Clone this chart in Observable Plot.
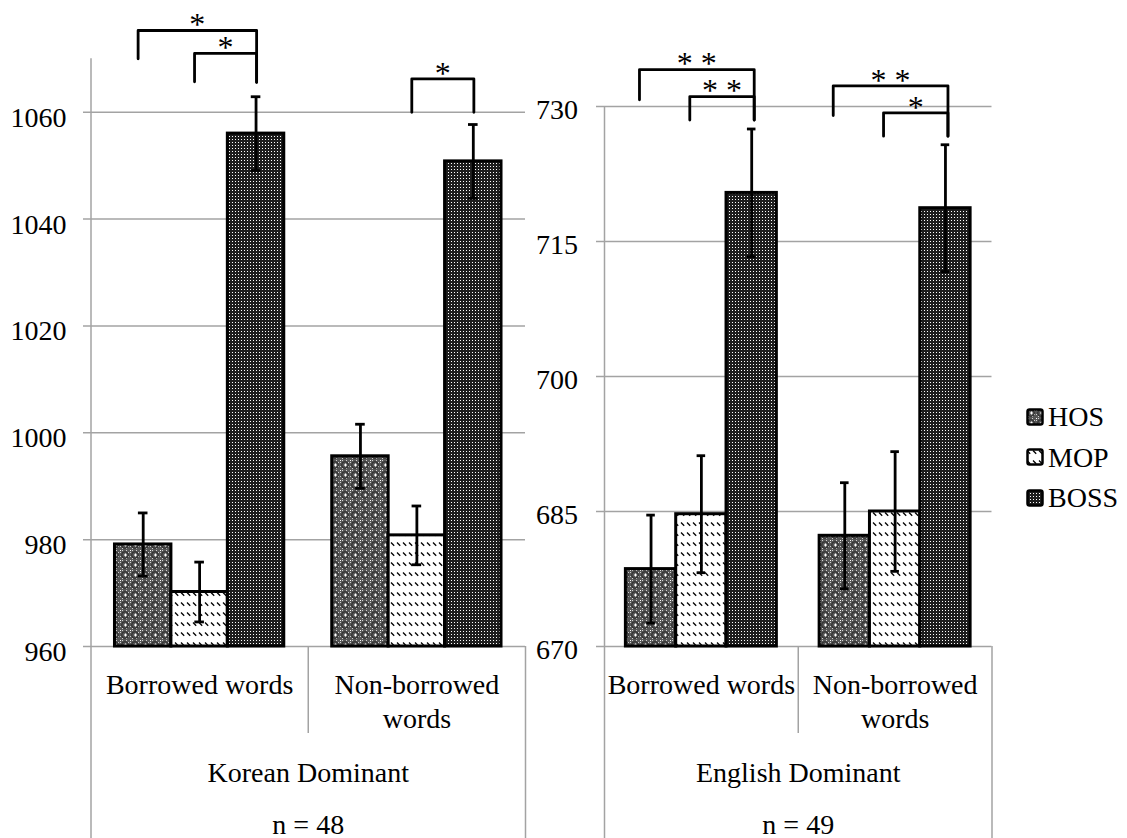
<!DOCTYPE html>
<html>
<head>
<meta charset="utf-8">
<script src="https://cdn.jsdelivr.net/npm/d3@7"></script>
<script src="https://cdn.jsdelivr.net/npm/@observablehq/plot@0.6"></script>
<style>
  html, body { margin: 0; padding: 0; background: #fff; }
  #wrap { position: relative; width: 1127px; height: 838px; overflow: hidden; font-family: "Liberation Serif", "Times New Roman", Times, "DejaVu Serif", serif; }
  .panel { position: absolute; top: 0; }
  #legend { position: absolute; left: 1026px; top: 397px; }
  .li { display: flex; align-items: center; height: 40.5px; font-size: 28px; line-height: 1; color: #000; }
  .li svg { margin-right: 3px; }
</style>
</head>
<body>
<svg width="0" height="0" style="position:absolute;left:0;top:0">
  <defs>
    <pattern id="p-hos" patternUnits="userSpaceOnUse" width="10" height="10">
      <rect width="10" height="10" fill="#565656"/>
      <path d="M2 0h1v1h-1zM6 0h1v1h-1zM0 2h1v1h-1zM8 2h1v1h-1zM0 6h1v1h-1zM8 6h1v1h-1zM2 8h1v1h-1zM6 8h1v1h-1z" fill="#cfcfcf"/>
      <circle cx="5" cy="5" r="3.3" fill="none" stroke="#262626" stroke-width="0.9"/>
      <path d="M4 5h3M5.5 3.5v3" stroke="#ffffff" stroke-width="1"/>
      <path d="M0 0h1v1h-1z" fill="#ffffff"/>
    </pattern>
    <pattern id="p-mop" patternUnits="userSpaceOnUse" width="6" height="10">
      <rect width="6" height="10" fill="#ffffff"/>
      <path d="M1 2.5L4.2 5.7" stroke="#000" stroke-width="1.3"/>
    </pattern>
    <pattern id="p-boss" patternUnits="userSpaceOnUse" width="3" height="3">
      <rect width="3" height="3" fill="#1e1e1e"/>
      <rect x="1" y="1" width="1" height="1" fill="#ffffff"/>
    </pattern>
  </defs>
</svg>
<div id="wrap">
  <div id="left" class="panel" style="left:0px"></div>
  <div id="right" class="panel" style="left:530px"></div>
  <div id="legend"></div>
</div>
<script>
// ---------- data ----------
const conditions = ["HOS", "MOP", "BOSS"];
const wordTypes = ["Borrowed words", "Non-borrowed words"];
const dominanceGroups = ["Korean Dominant", "English Dominant"];
const sampleSizes = [48, 49];

// Korean Dominant (means and error bars: HOS, MOP, BOSS)
const koreanBorrowed = [979.1, 970.2, 1056.0];
const koreanBorrowedErr = [5.9, 5.6, 6.9];
const koreanNonBorrowed = [995.6, 980.8, 1050.8];
const koreanNonBorrowedErr = [6.0, 5.5, 6.9];
const koreanTicks = [960, 980, 1000, 1020, 1040, 1060];
const koreanDomain = [960, 1070];

// English Dominant
const englishBorrowed = [678.6, 684.7, 720.4];
const englishBorrowedErr = [6.0, 6.5, 7.1];
const englishNonBorrowed = [682.3, 685.0, 718.7];
const englishNonBorrowedErr = [5.9, 6.65, 7.05];
const englishTicks = [670, 685, 700, 715, 730];
const englishDomain = [670, 730];

// significance brackets (word type index, compared conditions, label, levels in data units)
const koreanBrackets = [
  {wt: 0, from: "HOS", to: "BOSS", label: "*", top: 1075.3, leftEnd: 1070.0, rightEnd: 1065.6},
  {wt: 0, from: "MOP", to: "BOSS", label: "*", top: 1071.0, leftEnd: 1065.7, rightEnd: 1065.6},
  {wt: 1, from: "MOP", to: "BOSS", label: "*", top: 1066.25, leftEnd: 1060.0, rightEnd: 1060.0}
];
const englishBrackets = [
  {wt: 0, from: "HOS", to: "BOSS", label: "**", top: 734.1, leftEnd: 730.75, rightEnd: 728.5},
  {wt: 0, from: "MOP", to: "BOSS", label: "**", top: 731.1, leftEnd: 728.5, rightEnd: 728.5},
  {wt: 1, from: "HOS", to: "BOSS", label: "**", top: 732.3, leftEnd: 729.0, rightEnd: 726.7},
  {wt: 1, from: "MOP", to: "BOSS", label: "*", top: 729.3, leftEnd: 726.7, rightEnd: 726.7}
];

// ---------- layout / style ----------
const patternUrls = ["url(#p-hos)", "url(#p-mop)", "url(#p-boss)"];
const FONT = "'Liberation Serif', 'Times New Roman', Times, 'DejaVu Serif', serif";
const FS = 28;
const GRID = "#a3a3a3";
const GW = 3.85;          // width of one word-type group, in bar widths
const PAD = (GW - conditions.length) / 2;

function barCenter(wt, cond) {
  return wt * GW + PAD + conditions.indexOf(cond) + 0.5;
}

function makePanel(cfg) {
  const rows = [];
  wordTypes.forEach((w, g) => {
    conditions.forEach((c, j) => {
      const x1 = g * GW + PAD + j;
      rows.push({wordType: w, cond: c, mean: cfg.means[g][j], err: cfg.errs[g][j], x1, x2: x1 + 1, xc: x1 + 0.5});
    });
  });
  const base = cfg.domain[0];
  const pts = [];
  const labels = [];
  cfg.brackets.forEach((b, k) => {
    const xl = barCenter(b.wt, b.from) + cfg.legShift;
    const xr = barCenter(b.wt, b.to) + cfg.rightShift;
    pts.push({k, x: xl, y: b.leftEnd}, {k, x: xl, y: b.top}, {k, x: xr, y: b.top}, {k, x: xr, y: b.rightEnd});
    labels.push({x: (xl + xr) / 2, y: b.top, label: b.label.split("").join(" ")});
  });
  const plot = Plot.plot({
    width: cfg.width,
    height: 838,
    marginLeft: cfg.marginLeft,
    marginRight: cfg.marginRight,
    marginTop: cfg.marginTop,
    marginBottom: cfg.marginBottom,
    x: {domain: [0, 2 * GW], axis: null},
    y: {domain: cfg.domain, axis: null},
    color: {domain: conditions, range: patternUrls},
    style: {background: "transparent", fontFamily: FONT, color: "black", overflow: "visible"},
    marks: [
      Plot.ruleY(cfg.ticks, {y: d => d, stroke: GRID, strokeWidth: 1.5, insetLeft: -cfg.tickLen}),
      Plot.ruleX([0], {x: d => d, stroke: GRID, strokeWidth: 1.5, insetBottom: -cfg.marginBottom}),
      Plot.ruleX([2 * GW], {x: d => d, y1: () => base, y2: () => base, stroke: GRID, strokeWidth: 1.5, insetBottom: -cfg.marginBottom}),
      Plot.ruleX([GW], {x: d => d, y1: () => base, y2: () => base, stroke: GRID, strokeWidth: 1.5, insetBottom: -87}),
      Plot.rect(rows, {x1: "x1", x2: "x2", y1: () => base, y2: "mean", fill: "cond", stroke: "black", strokeWidth: 3}),
      Plot.ruleX(rows, {x: "xc", y1: d => d.mean - d.err, y2: d => d.mean + d.err, stroke: "black", strokeWidth: 2.8}),
      Plot.ruleY(rows, {y: d => d.mean + d.err, x1: d => d.xc - 0.085, x2: d => d.xc + 0.085, stroke: "black", strokeWidth: 2.8}),
      Plot.ruleY(rows, {y: d => d.mean - d.err, x1: d => d.xc - 0.085, x2: d => d.xc + 0.085, stroke: "black", strokeWidth: 2.8}),
      Plot.text(cfg.ticks, {x: () => 0, y: d => d, text: d => String(d), textAnchor: "end", dx: cfg.labelDx, dy: cfg.labelDy, fontSize: FS, fontFamily: FONT, fill: "black"}),
      Plot.text(wordTypes, {x: (d, i) => i * GW + GW / 2, y: () => base, text: d => d, lineAnchor: "top", lineWidth: 8, lineHeight: 1.214, dy: 22.9, fontSize: FS, fontFamily: FONT, fill: "black"}),
      Plot.text([cfg.title], {x: () => GW, y: () => base, text: d => d, lineAnchor: "bottom", dy: 135.7, fontSize: FS, fontFamily: FONT, fill: "black"}),
      Plot.text([cfg.n], {x: () => GW, y: () => base, text: d => `n = ${d}`, lineAnchor: "bottom", dy: 187, fontSize: FS, fontFamily: FONT, fill: "black"}),
      Plot.line(pts, {x: "x", y: "y", z: "k", stroke: "black", strokeWidth: 2.8, strokeLinejoin: "round", strokeLinecap: "round"}),
      Plot.text(labels, {x: "x", y: "y", text: "label", lineAnchor: "bottom", dy: 4.7, fontSize: 32, fontFamily: FONT, fill: "black"})
    ]
  });
  document.querySelector(cfg.el).appendChild(plot);
}

makePanel({
  el: "#left", width: 540, marginLeft: 90.5, marginRight: 15, marginTop: 58.3, marginBottom: 192,
  domain: koreanDomain, ticks: koreanTicks, tickLen: 7.5, labelDx: -24.5, labelDy: 5.5,
  means: [koreanBorrowed, koreanNonBorrowed], errs: [koreanBorrowedErr, koreanNonBorrowedErr],
  brackets: koreanBrackets, legShift: -0.09, rightShift: 0.01,
  title: dominanceGroups[0], n: sampleSizes[0]
});
makePanel({
  el: "#right", width: 470, marginLeft: 74, marginRight: 8.5, marginTop: 106, marginBottom: 192,
  domain: englishDomain, ticks: englishTicks, tickLen: 8, labelDx: -26.6, labelDy: 4,
  means: [englishBorrowed, englishNonBorrowed], errs: [englishBorrowedErr, englishNonBorrowedErr],
  brackets: englishBrackets, legShift: -0.23, rightShift: 0.05,
  title: dominanceGroups[1], n: sampleSizes[1]
});

const legend = document.getElementById("legend");
conditions.forEach((c, i) => {
  const row = document.createElement("div");
  row.className = "li";
  row.innerHTML = `<svg width="19" height="19"><rect x="1.5" y="1.5" width="15" height="15" rx="2" fill="${patternUrls[i]}" stroke="#000" stroke-width="2.5"/></svg><span>${c}</span>`;
  legend.appendChild(row);
});
</script>
</body>
</html>
